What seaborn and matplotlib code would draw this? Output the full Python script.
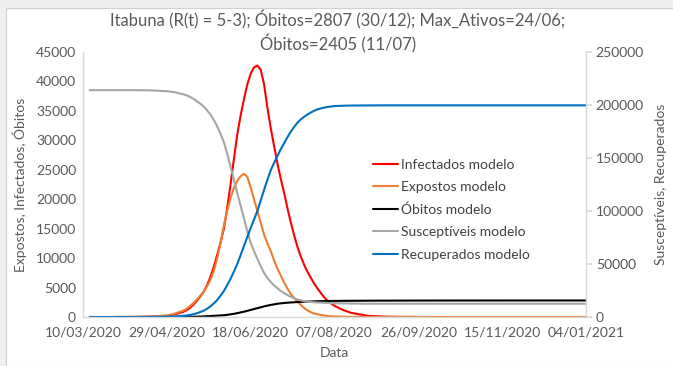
import numpy as np
import pandas as pd
import matplotlib
matplotlib.use("Agg")
import matplotlib.pyplot as plt
import matplotlib.dates as mdates
from matplotlib.patches import Rectangle
import seaborn as sns

# ---------------- data ----------------
start_date = "2020-03-10"
nan = np.nan
day_offsets = [4, 10, 20, 30, 40, 50, 55,
               60, 62, 64, 66, 68, 70, 72, 74, 76, 78,
               80, 82, 84, 86, 88, 90, 92, 94, 96, 98,
               100, 102, 104, 106, 108, 110, 112, 114, 116, 118,
               120, 122, 124, 126, 128, 130, 132, 134, 136, 138,
               140, 142, 144, 146, 148, 150,
               155, 160, 170, 180, 190, 200, 210, 217, 230, 250, 270, 290, 300]
infectados = [nan, nan, 0, 10, 50, 200, 450,
              900, 1200, 1600, 2150, 2800, 3500, 4300, 5400, 6800, 8500,
              10500, 12600, 15000, 18500, 22500, 26800, 31000, 34200, 37000, 39500,
              41300, 42400, 42700, 42000, 39500, 35500, 32000, 29000, 26000, 23400,
              21000, 18400, 16000, 13800, 11800, 10200, 8800, 7600, 6600, 5600,
              4800, 4000, 3300, 2700, 2300, 1900,
              1200, 700, 200, 60, 20, 5, 0, 0, nan, nan, nan, nan, nan]
expostos = [nan, nan, 0, 20, 80, 250, 600,
            1100, 1450, 1900, 2400, 3000, 3600, 4300, 5200, 6300, 7800,
            9900, 12500, 15500, 18000, 20200, 21900, 23100, 23900, 24300, 23800,
            22000, 20000, 18000, 16000, 14000, 12500, 11200, 9600, 8200, 7000,
            5800, 4800, 3900, 3200, 2600, 2000, 1500, 1100, 800, 600,
            450, 350, 250, 180, 130, 100,
            50, 30, 10, 0, 0, 0, 0, 0, 0, 0, 0, 0, 0]
obitos = [nan, nan, nan, nan, nan, 0, 5,
          15, 22, 30, 45, 60, 80, 100, 130, 160, 195,
          230, 265, 300, 370, 450, 545, 650, 770, 900, 1050,
          1200, 1350, 1500, 1650, 1800, 1930, 2050, 2150, 2250, 2320,
          2380, 2430, 2470, 2505, 2540, 2570, 2600, 2620, 2640, 2660,
          2680, 2692, 2704, 2714, 2722, 2730,
          2745, 2755, 2770, 2780, 2787, 2793, 2797, 2800, 2803, 2805, 2806, 2807, 2807]
susceptiveis = [214000, 214000, 214000, 214000, 213800, 213000, 212000,
                210000, 209000, 207500, 205700, 203500, 201200, 198500, 195000, 191000, 186000,
                180000, 173000, 165000, 154000, 142000, 129500, 117000, 105000, 93000, 81000,
                70000, 62000, 55000, 48000, 41500, 36800, 33000, 29800, 27000, 24500,
                22500, 20700, 19000, 17700, 16500, 15700, 15000, 14600, 14200, 13900,
                13700, 13550, 13400, 13250, 13100, 13000,
                12800, 12700, 12500, 12500, 12500, 12500, 12500, 12500, 12500, 12500,
                12500, 12500, 12500]
recuperados = [0, 0, 0, 0, 100, 300, 600,
               1100, 1500, 2000, 2700, 3600, 4700, 6000, 7800, 10000, 12800,
               16000, 20000, 24500, 30000, 36000, 42800, 50000, 58300, 67000, 75500,
               84000, 92000, 100000, 110000, 120000, 129500, 138500, 145500, 152000, 158500,
               164000, 169800, 175000, 179500, 183500, 186500, 189000, 191200, 193000, 194600,
               196000, 196800, 197600, 198200, 198600, 199000,
               199300, 199500, 199600, 199700, 199700, 199700, 199700, 199700, 199700,
               199700, 199700, 199700, 199700]

title_text = "Itabuna (R(t) = 5-3); Óbitos=2807 (30/12); Max_Ativos=24/06;\nÓbitos=2405 (11/07)"
left_label = "Expostos, Infectados, Óbitos"
right_label = "Susceptíveis, Recuperados"
x_label = "Data"
x_tick_dates = ["2020-03-10", "2020-04-29", "2020-06-18", "2020-08-07",
                "2020-09-26", "2020-11-15", "2021-01-04"]
left_ticks = [0, 5000, 10000, 15000, 20000, 25000, 30000, 35000, 40000, 45000]
right_ticks = [0, 50000, 100000, 150000, 200000, 250000]

names = ["Infectados modelo", "Expostos modelo", "Óbitos modelo",
         "Susceptíveis modelo", "Recuperados modelo"]
colors = ["#FF0000", "#ED7D31", "#000000", "#A5A5A5", "#0070C0"]

# ---------------- build table ----------------
dates = pd.Timestamp(start_date) + pd.to_timedelta(day_offsets, unit="D")
df = pd.DataFrame({"Data": dates,
                   names[0]: infectados, names[1]: expostos, names[2]: obitos,
                   names[3]: susceptiveis, names[4]: recuperados})

sns.set_theme(style="white")
plt.rcParams["font.family"] = ["Lato", "DejaVu Sans"]
txt = "#595959"
axc = "#D9D9D9"

W, H = 673, 366
fig = plt.figure(figsize=(W / 100, H / 100), dpi=100)
fig.patch.set_facecolor("#EFEFEF")
fig.patches.append(Rectangle((6 / W, 0), 1, 1 - 8 / H, transform=fig.transFigure,
                             facecolor="white", edgecolor="#D0D0D0", lw=0.8, zorder=-10))

x0, x1, y0, y1 = 83, 586, 317, 52
ax = fig.add_axes([x0 / W, 1 - y0 / H, (x1 - x0) / W, (y0 - y1) / H])
ax.set_facecolor("none")
ax2 = ax.twinx()

lw = 1.5
for i in range(3):
    sns.lineplot(data=df, x="Data", y=names[i], ax=ax, color=colors[i], lw=lw,
                 label=names[i], legend=False)
for i in range(3, 5):
    sns.lineplot(data=df, x="Data", y=names[i], ax=ax2, color=colors[i], lw=lw,
                 label=names[i], legend=False)

xt = pd.to_datetime(x_tick_dates)
ax.set_xlim(xt[0], xt[-1])
ax.set_xticks(xt)
ax.xaxis.set_major_formatter(mdates.DateFormatter("%d/%m/%Y"))
ax.set_ylim(0, 45000)
ax.set_yticks(left_ticks)
ax2.set_ylim(0, 250000)
ax2.set_yticks(right_ticks)

fs = 10
for a in (ax, ax2):
    for s in a.spines.values():
        s.set_color(axc)
        s.set_linewidth(0.9)
    a.spines["top"].set_visible(False)
    a.grid(False)
ax.tick_params(axis="x", colors=axc, labelcolor=txt, labelsize=fs, length=4,
               direction="out", pad=3)
ax.tick_params(axis="y", length=0, labelcolor=txt, labelsize=fs, pad=5)
ax2.tick_params(axis="y", length=4, colors=axc, labelcolor=txt, labelsize=fs,
                direction="out", pad=3)

ax.set_xlabel(x_label, color=txt, fontsize=fs, labelpad=6)
ax.set_ylabel(left_label, color=txt, fontsize=fs, labelpad=6)
ax2.set_ylabel(right_label, color=txt, fontsize=fs, rotation=90, labelpad=8)

fig.text(338 / W, 1 - 10 / H, title_text, ha="center", va="top", color=txt,
         fontsize=12, linespacing=1.3)

handles = ax.get_lines()[:3] + ax2.get_lines()[:2]
leg = ax2.legend(handles, names, loc="upper left", bbox_to_anchor=(0.577, 0.598),
                 frameon=False, fontsize=fs, handlelength=1.75, handletextpad=0.25,
                 labelspacing=0.75, borderaxespad=0, borderpad=0)
for t in leg.get_texts():
    t.set_color("#404040")

fig.savefig("out.png", dpi=100, facecolor=fig.get_facecolor())
